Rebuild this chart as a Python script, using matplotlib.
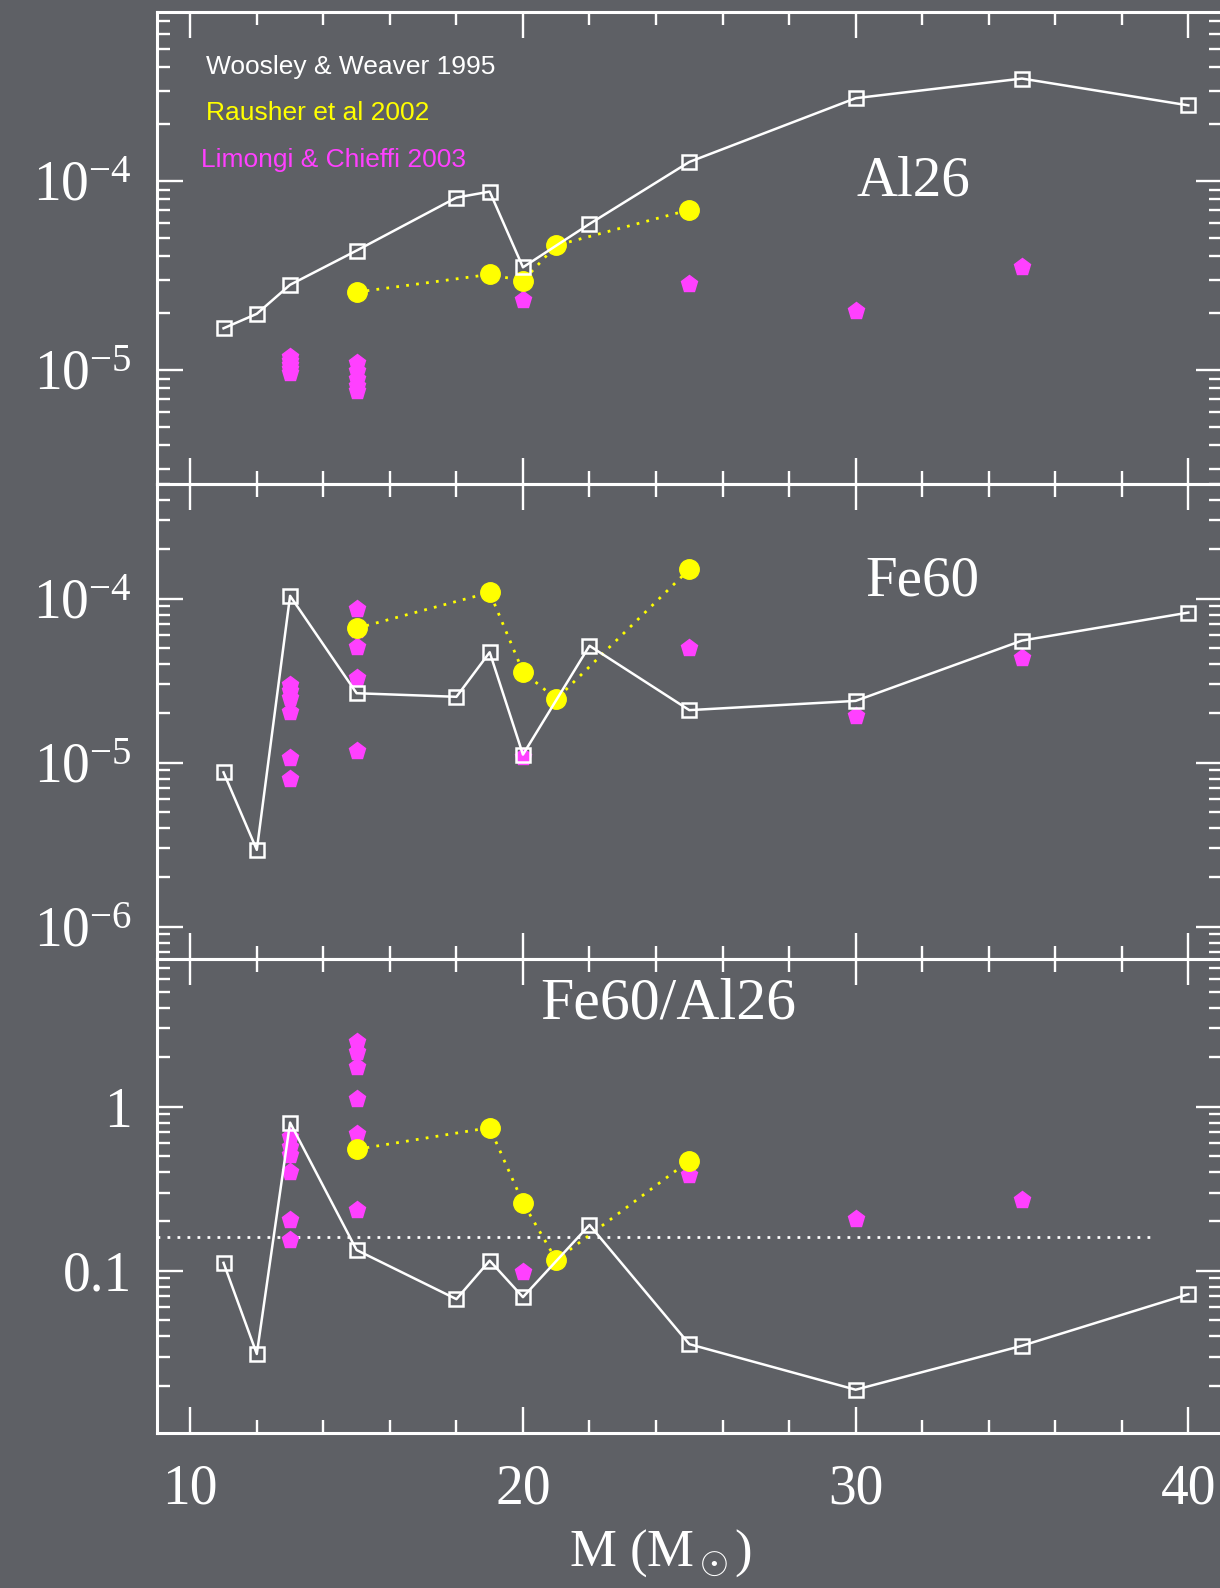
import math
import matplotlib
matplotlib.use("Agg")
import matplotlib.pyplot as plt
from matplotlib.ticker import LogLocator, MultipleLocator, FuncFormatter, NullFormatter

plt.rcParams['font.family'] = ['Liberation Serif', 'DejaVu Serif']
plt.rcParams['mathtext.fontset'] = 'custom'
plt.rcParams['mathtext.rm'] = 'Liberation Serif'
plt.rcParams['mathtext.it'] = 'Liberation Serif:italic'

# Woosley & Weaver 1995
mass_ww = [11, 12, 13, 15, 18, 19, 20, 22, 25, 30, 35, 40]
al26_ww = [1.66e-5, 1.98e-5, 2.82e-5, 4.28e-5, 8.16e-5, 8.78e-5, 3.49e-5, 5.92e-5,
           1.26e-4, 2.74e-4, 3.48e-4, 2.51e-4]
fe60_ww = [8.73e-6, 2.94e-6, 1.04e-4, 2.65e-5, 2.52e-5, 4.71e-5, 1.12e-5, 5.16e-5,
           2.09e-5, 2.38e-5, 5.55e-5, 8.22e-5]
ratio_ww = [0.112, 0.0312, 0.80, 0.134, 0.0673, 0.1155, 0.0692, 0.1905,
            0.0358, 0.0189, 0.035, 0.0721]

# Rauscher et al 2002
mass_rh = [15, 19, 20, 21, 25]
al26_rh = [2.58e-5, 3.2e-5, 2.96e-5, 4.56e-5, 7.03e-5]
fe60_rh = [6.6e-5, 1.09e-4, 3.59e-5, 2.44e-5, 1.51e-4]
ratio_rh = [0.55, 0.745, 0.26, 0.1167, 0.469]

# Limongi & Chieffi 2003
mass_lc_al = [13, 13, 13, 13, 13, 15, 15, 15, 15, 15, 20, 25, 30, 35]
al26_lc = [1.17e-5, 1.12e-5, 1.06e-5, 1.01e-5, 9.6e-6,
           1.09e-5, 9.9e-6, 8.9e-6, 8.2e-6, 7.7e-6,
           2.34e-5, 2.84e-5, 2.06e-5, 3.52e-5]
mass_lc_fe = [13, 13, 13, 13, 13, 13, 15, 15, 15, 15, 15, 20, 25, 30, 35]
fe60_lc = [2.98e-5, 2.72e-5, 2.48e-5, 2.05e-5, 1.06e-5, 8.0e-6,
           8.6e-5, 6.4e-5, 5.1e-5, 3.27e-5, 1.17e-5,
           1.08e-5, 5.03e-5, 1.93e-5, 4.33e-5]
mass_lc_ratio = [13, 13, 13, 13, 13, 13, 15, 15, 15, 15, 15, 15, 20, 25, 30, 35]
ratio_lc = [0.657, 0.571, 0.508, 0.402, 0.204, 0.154,
            2.49, 2.16, 1.75, 1.11, 0.68, 0.235,
            0.099, 0.384, 0.206, 0.27]

# reference ratio (dotted line)
ref_ratio = 0.16
ref_mass = [9, 39]

BG = '#5e6065'
YEL = '#ffff00'
MAG = '#ff40ff'
WHITE = '#ffffff'

fig = plt.figure(figsize=(12.2, 15.88), dpi=100, facecolor=BG)

W, H = 1220.0, 1588.0
left = 157 / W
width = 1064.6 / W
panels_px = [(12, 484), (484, 959), (959, 1433)]
ylims = [(2.49e-6, 7.83e-4), (6.35e-7, 5.0e-4), (0.0103, 7.93)]

axes = []
for (top, bot), yl in zip(panels_px, ylims):
    ax = fig.add_axes([left, (H - bot) / H, width, (bot - top) / H])
    ax.set_facecolor('none')
    ax.set_yscale('log')
    ax.set_xlim(9, 41)
    ax.set_ylim(*yl)
    for s in ax.spines.values():
        s.set_color(WHITE)
        s.set_linewidth(2.2)
    ax.xaxis.set_major_locator(MultipleLocator(10))
    ax.xaxis.set_minor_locator(MultipleLocator(2))
    ax.yaxis.set_major_locator(LogLocator(base=10))
    ax.yaxis.set_minor_locator(LogLocator(base=10, subs=range(2, 10)))
    ax.yaxis.set_minor_formatter(NullFormatter())
    ax.tick_params(which='both', direction='in', top=True, right=True,
                   colors=WHITE, width=1.7)
    ax.tick_params(which='major', length=19, labelsize=40, pad=18)
    ax.tick_params(which='minor', length=9.5)
    ax.tick_params(axis='x', labelbottom=False)
    axes.append(ax)

ax1, ax2, ax3 = axes

exp_fmt = FuncFormatter(lambda v, p: r'$\mathregular{10^{%d}}$' % round(math.log10(v)))
ax1.yaxis.set_major_formatter(exp_fmt)
ax2.yaxis.set_major_formatter(exp_fmt)
ax3.yaxis.set_major_formatter(FuncFormatter(lambda v, p: {1.0: '1', 0.1: '0.1'}.get(round(v, 3), '')))

ax3.tick_params(axis='x', labelbottom=True, pad=22)
ax3.set_xticks([10, 20, 30, 40])

sets = [
    (ax1, mass_lc_al, al26_lc, al26_rh, al26_ww),
    (ax2, mass_lc_fe, fe60_lc, fe60_rh, fe60_ww),
    (ax3, mass_lc_ratio, ratio_lc, ratio_rh, ratio_ww),
]
for ax, mlc, ylc, yrh, yww in sets:
    ax.plot(mlc, ylc, linestyle='none', marker='p', ms=12.5, color=MAG,
            mec=MAG, zorder=3)
    ax.plot(mass_rh, yrh, linestyle=(0, (1, 2.6)), lw=2, color=YEL,
            marker='o', ms=14, mec=YEL, zorder=4)
    ax.plot(mass_ww, yww, linestyle='-', lw=1.8, color=WHITE,
            marker='s', ms=9.5, mfc='none', mec=WHITE, mew=1.8, zorder=5)

ax3.plot(ref_mass, [ref_ratio, ref_ratio], linestyle=(0, (1, 2.6)), lw=2,
         color=WHITE, zorder=2)

leg_font = ['Liberation Sans', 'DejaVu Sans']
ax1.text(0.0456, 0.884, 'Woosley & Weaver 1995', color=WHITE, fontsize=19,
         family=leg_font, transform=ax1.transAxes, va='center', ha='left')
ax1.text(0.0456, 0.786, 'Rausher et al 2002', color=YEL, fontsize=19,
         family=leg_font, transform=ax1.transAxes, va='center', ha='left')
ax1.text(0.0413, 0.686, 'Limongi & Chieffi 2003', color=MAG, fontsize=19,
         family=leg_font, transform=ax1.transAxes, va='center', ha='left')

ax1.text(0.711, 0.640, 'Al26', color=WHITE, fontsize=41,
         transform=ax1.transAxes, va='center', ha='center')
ax2.text(0.7186, 0.794, 'Fe60', color=WHITE, fontsize=41,
         transform=ax2.transAxes, va='center', ha='center')
ax3.text(0.48, 0.903, 'Fe60/Al26', color=WHITE, fontsize=43,
         transform=ax3.transAxes, va='center', ha='center')

fig.text(660 / W, (H - 1566) / H, r'M (M$_\odot$)', color=WHITE, fontsize=38,
         ha='center', va='baseline')

fig.savefig('out.png', dpi=100, facecolor=BG)
